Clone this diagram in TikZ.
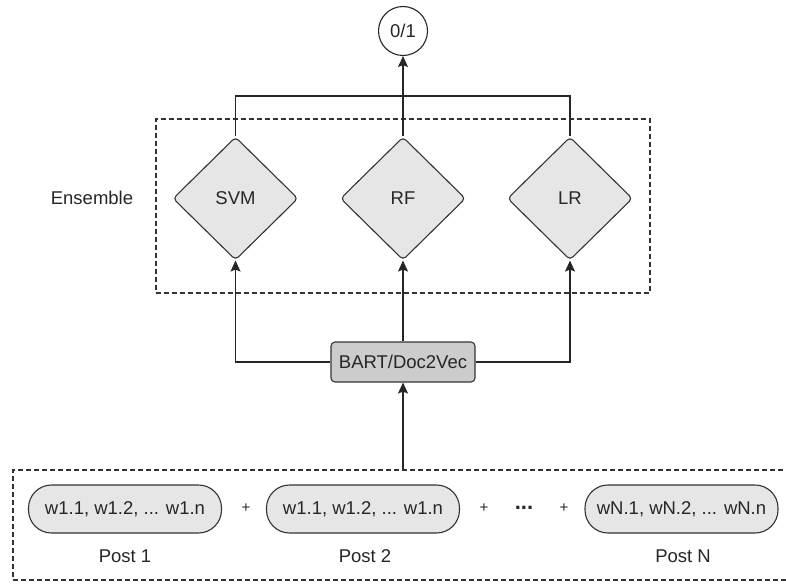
\documentclass[tikz,border=0pt]{standalone}
\usepackage{fontspec}
\setmainfont{Liberation Sans}
\usetikzlibrary{arrows.meta,positioning,calc,shapes.geometric}
\definecolor{lightgray}{RGB}{230,230,230}
\definecolor{midgray}{RGB}{204,204,204}
\definecolor{edgegray}{RGB}{51,51,51}

\begin{document}
\begin{tikzpicture}[
  x=1pt,y=-1pt,
  every node/.style={font=\fontsize{18.5}{22}\selectfont,text=black!85},
  model/.style={diamond,draw=edgegray,fill=lightgray,line width=1.1pt,rounded corners=4pt,
    aspect=1,inner sep=0pt,minimum width=125pt,minimum height=123pt},
  pill/.style={rectangle,draw=edgegray,fill=lightgray,line width=1.1pt,rounded corners=23pt,
    inner sep=0pt,minimum width=193pt,minimum height=48pt},
  group/.style={rectangle,draw=black!80,line width=1.1pt,dash pattern=on 5pt off 3pt,inner sep=0pt},
  op/.style={font=\fontsize{15}{16}\selectfont},
  link/.style={line width=1.2pt,draw=black!85},
  ->,>={Stealth[length=11pt,width=10pt,inset=2pt]}]
  \useasboundingbox (0,0) rectangle (786,583);
  % ensemble
  \node[group,minimum width=494pt,minimum height=174pt](ens) at(403,206){};
  \node(enslbl) at(92,198){Ensemble};
  \node[model](svm) at(235.5,198.5){SVM};
  \node[model](rf) at(403,198.5){RF};
  \node[model](lr) at(570,198.5){LR};
  \node[circle,draw=black!85,line width=1.1pt,minimum size=49pt,inner sep=0pt](out) at(403,31){0/1};
  \node[rectangle,draw=edgegray,fill=midgray,line width=1.1pt,rounded corners=4pt,
    minimum width=144pt,minimum height=40pt,inner sep=0pt](bart) at(403,362){BART/Doc2Vec};
  % posts
  \node[group,minimum width=790pt,minimum height=110pt](posts) at(408,525){};
  \node[pill](p1) at(125,509){w1.1, w1.2, ... w1.n};
  \node[pill](p2) at(363,509){w1.1, w1.2, ... w1.n};
  \node[pill](pn) at(681.5,509){wN.1, wN.2, ... wN.n};
  \node(l1) at(125,556){Post 1};
  \node(l2) at(365,556){Post 2};
  \node(ln) at(683,556){Post N};
  \node[op](plus1) at(246,508){+};
  \node[op](plus2) at(484,508){+};
  \node[font=\fontsize{22}{24}\selectfont\bfseries](dots) at(524,508){...};
  \node[op](plus3) at(564,508){+};
  % connectors
  \coordinate(top) at(403,96);
  \draw[link,-](svm.north)|-(top)-|(lr.north);
  \draw[link](rf.north)--(out.south);
  \draw[link](bart.west)-|(svm.south);
  \draw[link](bart.east)-|(lr.south);
  \draw[link](bart.north)--(rf.south);
  \draw[link](bart|-posts.north)--(bart.south);
\end{tikzpicture}
\end{document}
